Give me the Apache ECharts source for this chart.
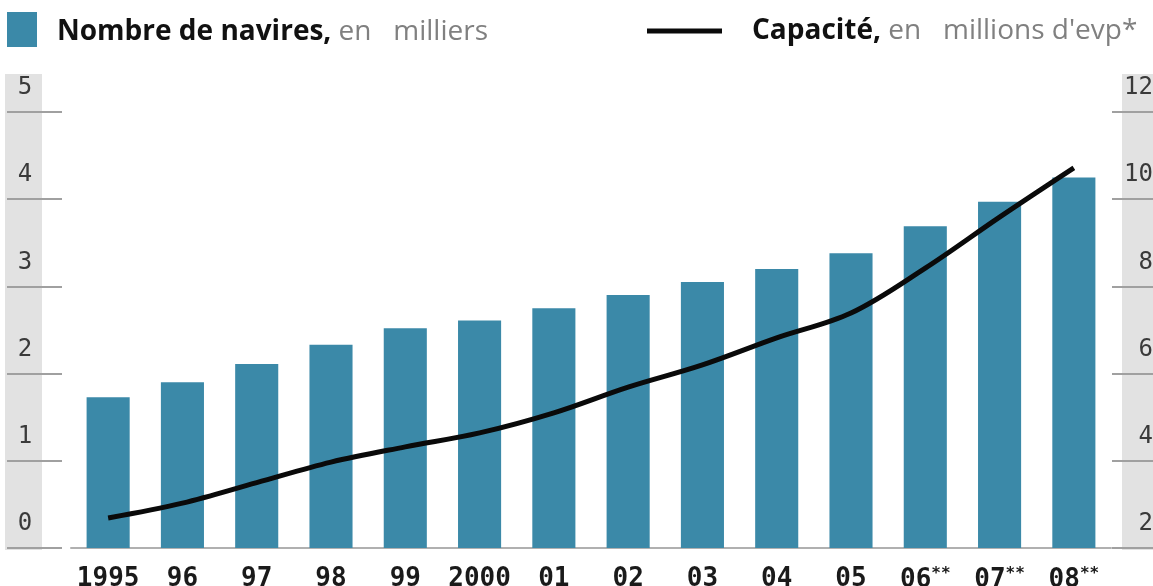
<!DOCTYPE html>
<html>
<head>
<meta charset="utf-8">
<script src="https://cdn.jsdelivr.net/npm/echarts@6/dist/echarts.min.js"></script>
<style>
html,body{margin:0;padding:0;background:#ffffff;}
#c{width:1153px;height:586px;}
</style>
</head>
<body>
<div id="c"></div>
<script>
const categories = ['1995','96','97','98','99','2000','01','02','03','04','05','06**','07**','08**'];
const navires = [1.73,1.90,2.11,2.33,2.52,2.61,2.75,2.90,3.05,3.20,3.38,3.69,3.97,4.25];
const capacite = [2.69,3.03,3.50,3.97,4.32,4.64,5.10,5.69,6.20,6.82,7.39,8.42,9.59,10.72];
const leftTicks = [0,1,2,3,4,5];
const rightTicks = [2,4,6,8,10,12];

const chart = echarts.init(document.getElementById('c'), null, {renderer:'canvas'});
const numFont = 'DejaVu Sans Mono';
const txtFont = 'Open Sans';

const option = {
  animation: false,
  backgroundColor: '#ffffff',
  graphic: [
    {type:'rect', z:-10, shape:{x:5,y:74,width:37,height:476}, style:{fill:'#e2e2e2'}},
    {type:'rect', z:-10, shape:{x:1122,y:74,width:31,height:476}, style:{fill:'#e2e2e2'}}
  ],
  legend: [
    {
      data:['Nombre de navires'], left:7, top:12, padding:0, icon:'rect', itemWidth:30, itemHeight:35,
      formatter: function(){ return '{b|Nombre de navires,}{n| en   milliers}'; },
      textStyle:{ rich:{
        b:{fontFamily:txtFont, fontWeight:'bold', fontSize:28, color:'#111', padding:[6,0,0,15]},
        n:{fontFamily:txtFont, fontSize:28, color:'#808080', padding:[6,0,0,0]}
      }}
    },
    {
      data:['Capacité'], left:647, top:17, padding:0, icon:'rect', itemWidth:75, itemHeight:5,
      formatter: function(){ return '{b|Capacité,}{n| en   millions d\'evp*}'; },
      textStyle:{ rich:{
        b:{fontFamily:txtFont, fontWeight:'bold', fontSize:28, color:'#111', padding:[0,0,0,25]},
        n:{fontFamily:txtFont, fontSize:28, color:'#808080'}
      }}
    }
  ],
  grid: {left:71, top:112, width:1040, height:436, containLabel:false, outerBoundsMode:'none'},
  xAxis: {
    type:'category', data:categories,
    axisLine:{show:true, lineStyle:{color:'#b0b0b0', width:2}},
    axisTick:{show:false},
    axisLabel:{
      margin:18, interval:0,
      formatter: function(v){
        const m = v.match(/^(\d+)(\*+)$/);
        return m ? '{a|'+m[1]+'}{s|'+m[2]+'}' : '{a|'+v+'}';
      },
      rich:{
        a:{fontFamily:numFont, fontWeight:'bold', fontSize:26, color:'#1a1a1a'},
        s:{fontFamily:numFont, fontWeight:'bold', fontSize:16, color:'#1a1a1a', verticalAlign:'top', padding:[0,0,12,0]}
      }
    }
  },
  yAxis: [
    {
      type:'value', min:0, max:5, interval:1, position:'left', offset:9,
      axisLine:{show:false},
      axisTick:{show:true, length:55, lineStyle:{color:'#a0a0a0', width:2}},
      splitLine:{show:false},
      axisLabel:{margin:37, align:'center', verticalAlign:'bottom', padding:[0,0,12,0],
        fontFamily:numFont, fontSize:24, color:'#3a3a3a',
        formatter:function(v){ return leftTicks.indexOf(v) >= 0 ? String(v) : ''; }}
    },
    {
      type:'value', min:2, max:12, interval:2, position:'right', offset:1,
      axisLine:{show:false},
      axisTick:{show:true, length:50, lineStyle:{color:'#a0a0a0', width:2}},
      splitLine:{show:false},
      axisLabel:{margin:41, align:'right', verticalAlign:'bottom', padding:[0,0,12,0],
        fontFamily:numFont, fontSize:24, color:'#3a3a3a',
        formatter:function(v){ return rightTicks.indexOf(v) >= 0 ? String(v) : ''; }}
    }
  ],
  series: [
    {
      name:'Nombre de navires', type:'bar', data:navires, yAxisIndex:0,
      barWidth:'58%',
      itemStyle:{color:'#3b89a8'}
    },
    {
      name:'Capacité', type:'line', data:capacite, yAxisIndex:1,
      smooth:0.35, symbol:'none',
      lineStyle:{color:'#0a0a0a', width:5},
      itemStyle:{color:'#0a0a0a'}
    }
  ]
};
chart.setOption(option);
</script>
</body>
</html>
